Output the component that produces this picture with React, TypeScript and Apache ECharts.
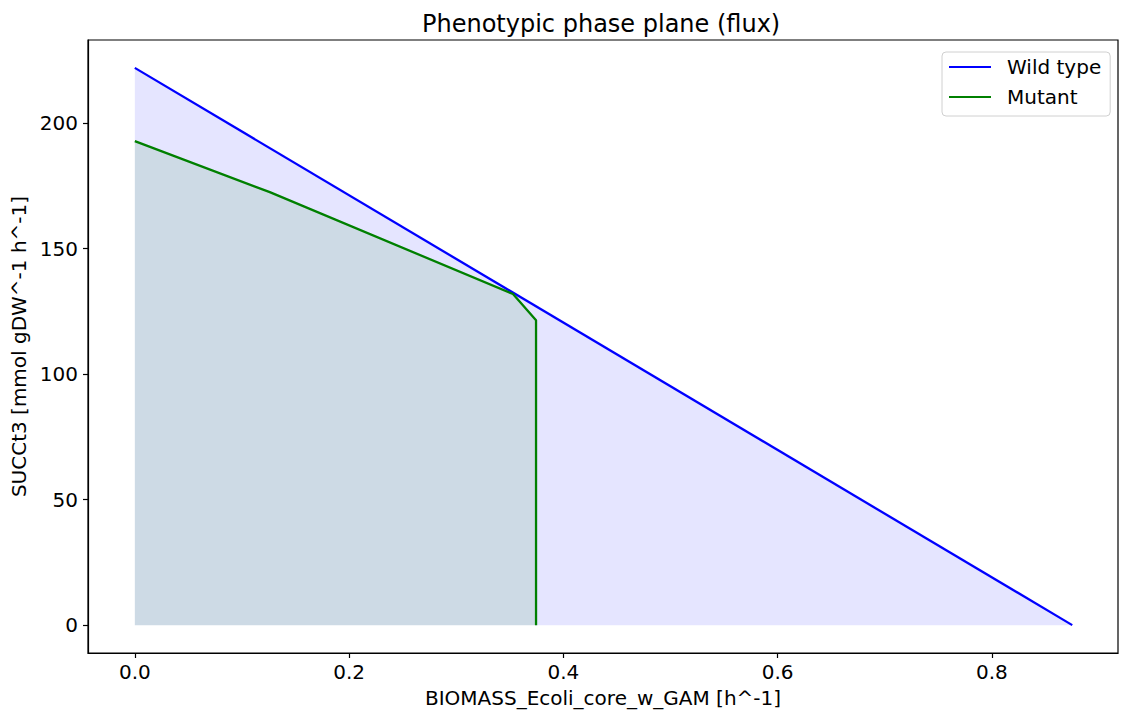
import React, { useEffect, useRef } from "react";
import * as echarts from "echarts";

const titleText = "Phenotypic phase plane (flux)";
const xAxisName = "BIOMASS_Ecoli_core_w_GAM [h^-1]";
const yAxisName = "SUCCt3 [mmol gDW^-1 h^-1]";
const seriesNames = ["Wild type", "Mutant"];

const wildX = [0, 0.875];
const wildY = [222, 0];
const mutantX = [0, 0.126, 0.353, 0.3745, 0.3745];
const mutantY = [192.8, 172.5, 131.9, 121.5, 0];

const xTicks = [0, 0.2, 0.4, 0.6, 0.8];
const yTicks = [0, 50, 100, 150, 200];

const FONT = "DejaVu Sans";

export default function App() {
  const ref = useRef<HTMLDivElement>(null);
  useEffect(() => {
    if (!ref.current) return;
    const chart = echarts.init(ref.current, undefined, { renderer: "svg" });
    const wild = wildX.map((x, i) => [x, wildY[i]]);
    const mut = mutantX.map((x, i) => [x, mutantY[i]]);
    chart.setOption({
      animation: false,
      backgroundColor: "#ffffff",
      title: {
        text: titleText,
        left: 422,
        top: 12,
        padding: 0,
        textStyle: { fontFamily: FONT, fontSize: 24, fontWeight: "normal", color: "#000" },
      },
      grid: {
        left: 88,
        top: 40,
        width: 1030,
        height: 613,
        show: true,
        borderColor: "#000",
        borderWidth: 1.2,
        backgroundColor: "transparent",
        containLabel: false,
        outerBoundsMode: "none",
      },
      legend: {
        data: seriesNames,
        orient: "vertical",
        left: 942,
        top: 52,
        align: "left",
        icon: "rect",
        itemWidth: 42,
        itemHeight: 2,
        itemGap: 10,
        padding: [5, 9, 9, 7],
        backgroundColor: "rgba(255,255,255,0.8)",
        borderColor: "#d0d0d0",
        borderWidth: 1,
        borderRadius: 4,
        textStyle: {
          fontFamily: FONT,
          fontSize: 20,
          color: "#000",
          lineHeight: 20,
          padding: [0, 0, 0, 11],
        },
      },
      xAxis: {
        type: "value",
        min: -0.0437,
        max: 0.9177,
        name: xAxisName,
        nameLocation: "middle",
        nameGap: 35,
        nameTextStyle: { fontFamily: FONT, fontSize: 20, color: "#000", lineHeight: 20 },
        axisLine: { show: true, onZero: false, lineStyle: { color: "#000", width: 1.2 } },
        axisTick: { show: true, length: 5, lineStyle: { color: "#000", width: 1.2 }, customValues: xTicks },
        axisLabel: {
          customValues: xTicks,
          fontFamily: FONT,
          fontSize: 20,
          color: "#000",
          margin: 9,
          formatter: (v: number) => v.toFixed(1),
        },
        splitLine: { show: false },
      },
      yAxis: {
        type: "value",
        min: -11.1,
        max: 233.1,
        name: yAxisName,
        nameLocation: "middle",
        nameGap: 56,
        nameRotate: 90,
        nameTextStyle: { fontFamily: FONT, fontSize: 20, color: "#000" },
        axisLine: { show: true, onZero: false, lineStyle: { color: "#000", width: 1.2 } },
        axisTick: { show: true, length: 5, lineStyle: { color: "#000", width: 1.2 }, customValues: yTicks },
        axisLabel: {
          customValues: yTicks,
          fontFamily: FONT,
          fontSize: 20,
          color: "#000",
          margin: 10,
          formatter: (v: number) => String(Math.round(v)),
        },
        splitLine: { show: false },
      },
      series: [
        {
          name: seriesNames[0],
          type: "line",
          data: wild,
          showSymbol: false,
          symbol: "none",
          color: "#0000ff",
          lineStyle: { color: "#0000ff", width: 2.3 },
          areaStyle: { color: "rgba(0,0,255,0.1)", opacity: 1, origin: 0 },
          z: 2,
        },
        {
          name: seriesNames[1],
          type: "line",
          data: mut,
          showSymbol: false,
          symbol: "none",
          color: "#008000",
          lineStyle: { color: "#008000", width: 2.3 },
          areaStyle: { color: "rgba(0,128,0,0.1)", opacity: 1, origin: 0 },
          z: 3,
        },
      ],
    });
    return () => chart.dispose();
  }, []);
  return (
    <div
      ref={ref}
      style={{ position: "absolute", left: 0, top: 0, width: 1121, height: 710 }}
    />
  );
}
